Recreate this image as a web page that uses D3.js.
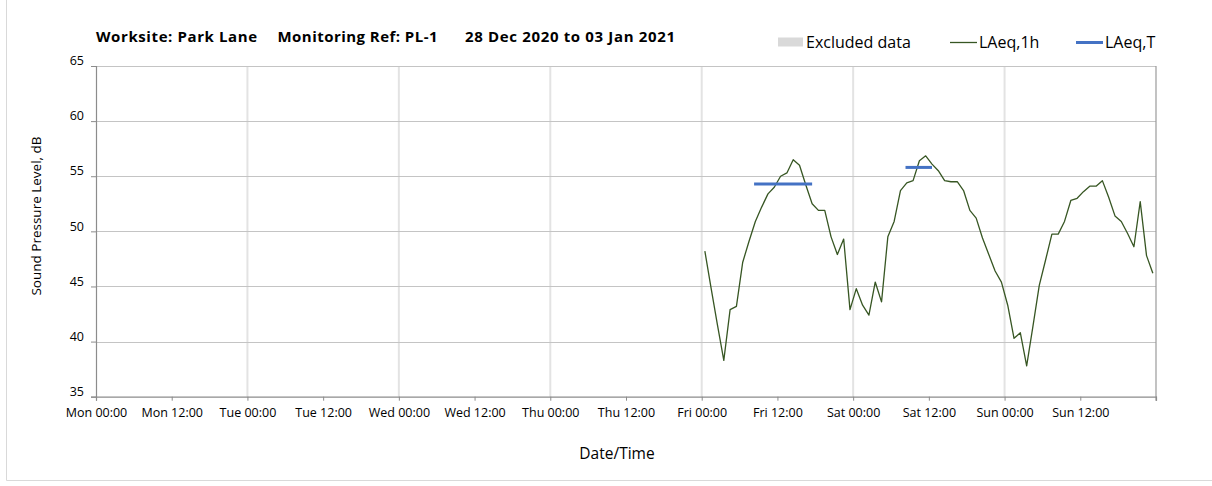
<!DOCTYPE html>
<html>
<head>
<meta charset="utf-8">
<script src="https://cdn.jsdelivr.net/npm/d3@7"></script>
<style>
  html, body { margin: 0; padding: 0; background: #fff; }
  svg { display: block; font-family: "Open Sans", "Noto Sans", sans-serif; }
</style>
</head>
<body>
<svg id="chart" width="1212" height="486"></svg>
<script>
// ---- data ----
const titleParts = ["Worksite: Park Lane", "Monitoring Ref: PL-1", "28 Dec 2020 to 03 Jan 2021"];
const xTickLabels = ["Mon 00:00","Mon 12:00","Tue 00:00","Tue 12:00","Wed 00:00","Wed 12:00",
  "Thu 00:00","Thu 12:00","Fri 00:00","Fri 12:00","Sat 00:00","Sat 12:00","Sun 00:00","Sun 12:00"];
const yTicks = [35, 40, 45, 50, 55, 60, 65];
// hourly LAeq,1h values (hours since Mon 00:00, first value at Fri 00:30)
const laeqStartHour = 96.5;
const laeq1h = [48.2, 44.8, 41.5, 38.3, 42.9, 43.2, 47.2, 49.1, 50.9, 52.2, 53.4, 54.0,
  55.0, 55.3, 56.5, 56.0, 54.2, 52.5, 51.9, 51.9, 49.5, 47.9, 49.3, 42.9,
  44.8, 43.3, 42.4, 45.4, 43.6, 49.5, 50.9, 53.7, 54.4, 54.6, 56.4, 56.85,
  56.1, 55.5, 54.6, 54.5, 54.5, 53.7, 51.9, 51.2, 49.4, 47.9, 46.4, 45.4,
  43.3, 40.3, 40.8, 37.8, 41.4, 45.1, 47.4, 49.75, 49.75, 50.9, 52.8, 53.0,
  53.6, 54.1, 54.1, 54.6, 53.1, 51.4, 50.9, 49.8, 48.6, 52.7, 47.8, 46.2];
// LAeq,T periods: start hour, end hour, level
const laeqTStart = [104.3, 128.3];
const laeqTEnd = [113.5, 132.5];
const laeqTValue = [54.3, 55.8];
const excludedData = []; // none in this period
const legendLabels = ["Excluded data", "LAeq,1h", "LAeq,T"];

// ---- layout ----
const svg = d3.select("#chart");
const W = 1212, H = 486;
const plot = { left: 96, right: 1156, top: 66, bottom: 396.7 };
const x = d3.scaleLinear().domain([0, 168]).range([plot.left, plot.right]);
const y = d3.scaleLinear().domain([35, 65]).range([plot.bottom, plot.top]);

svg.append("rect").attr("width", W).attr("height", H).attr("fill", "#fff");
// outer chart frame
svg.append("path").attr("d", `M6.5,0 V480.5 H${W}`).attr("fill", "none")
  .attr("stroke", "#d9d9d9").attr("stroke-width", 1);

// vertical day gridlines
svg.append("g").selectAll("line").data(d3.range(24, 168, 24)).join("line")
  .attr("x1", d => x(d)).attr("x2", d => x(d))
  .attr("y1", plot.top).attr("y2", plot.bottom)
  .attr("stroke", "#e3e3e3").attr("stroke-width", 2);

// horizontal gridlines
svg.append("g").selectAll("line").data(yTicks.slice(1)).join("line")
  .attr("x1", plot.left).attr("x2", plot.right)
  .attr("y1", d => Math.round(y(d)) + 0.5).attr("y2", d => Math.round(y(d)) + 0.5)
  .attr("stroke", "#c4c4c4").attr("stroke-width", 1);

// right border
svg.append("line").attr("x1", plot.right).attr("x2", plot.right)
  .attr("y1", plot.top).attr("y2", plot.bottom + 4)
  .attr("stroke", "#9a9a9a").attr("stroke-width", 1.2);

// excluded data (none)
svg.append("g").selectAll("rect").data(excludedData).join("rect")
  .attr("x", d => x(d[0])).attr("width", d => x(d[1]) - x(d[0]))
  .attr("y", plot.top).attr("height", plot.bottom - plot.top).attr("fill", "#d9d9d9");

// axes
const xAxis = d3.axisBottom(x).tickValues(d3.range(0, 169, 12)).tickSize(4)
  .tickFormat((d, i) => xTickLabels[i] || "");
const gx = svg.append("g").attr("transform", `translate(0,${plot.bottom})`).call(xAxis);
gx.select(".domain").attr("stroke", "#8c8c8c").attr("stroke-width", 1.2);
gx.selectAll(".tick line").attr("stroke", "#8c8c8c");
gx.selectAll(".tick text").attr("fill", "#000").attr("font-size", 12.5)
  .attr("font-family", "'Open Sans', sans-serif").attr("dy", "1.05em");

const yAxis = d3.axisLeft(y).tickValues(yTicks).tickSize(5).tickFormat(d3.format("d"));
const gy = svg.append("g").attr("transform", `translate(${plot.left},0)`).call(yAxis);
gy.select(".domain").attr("stroke", "#8c8c8c").attr("stroke-width", 1.2);
gy.selectAll(".tick line").attr("stroke", "#8c8c8c");
gy.selectAll(".tick text").attr("fill", "#000").attr("font-size", 12.5)
  .attr("font-family", "'Open Sans', sans-serif").attr("x", -12).attr("dy", "-0.1em");

// LAeq,1h line
const line = d3.line().x((d, i) => x(laeqStartHour + i)).y(d => y(d));
svg.append("path").datum(laeq1h).attr("d", line).attr("fill", "none")
  .attr("stroke", "#375623").attr("stroke-width", 1.3).attr("stroke-linejoin", "round");

// LAeq,T lines
svg.append("g").selectAll("line").data(laeqTValue).join("line")
  .attr("x1", (d, i) => x(laeqTStart[i])).attr("x2", (d, i) => x(laeqTEnd[i]))
  .attr("y1", d => y(d)).attr("y2", d => y(d))
  .attr("stroke", "#4472c4").attr("stroke-width", 3);

// title
const titleX = [96, 277.5, 465];
const titleW = [161, 160, 210];
svg.append("g").selectAll("text").data(titleParts).join("text")
  .attr("x", (d, i) => titleX[i]).attr("y", 42)
  .attr("font-size", 15).attr("font-weight", "bold").attr("fill", "#000")
  .attr("textLength", (d, i) => titleW[i]).attr("lengthAdjust", "spacing")
  .text(d => d);

// legend
const lg = svg.append("g");
lg.append("rect").attr("x", 778).attr("y", 37.5).attr("width", 25).attr("height", 9).attr("fill", "#d9d9d9");
lg.append("line").attr("x1", 950).attr("x2", 977).attr("y1", 42.5).attr("y2", 42.5)
  .attr("stroke", "#375623").attr("stroke-width", 1.3);
lg.append("line").attr("x1", 1076).attr("x2", 1103).attr("y1", 42.5).attr("y2", 42.5)
  .attr("stroke", "#4472c4").attr("stroke-width", 3);
const legendX = [806, 979, 1105];
lg.selectAll("text").data(legendLabels).join("text")
  .attr("x", (d, i) => legendX[i]).attr("y", 48)
  .attr("font-size", 16).attr("fill", "#000").text(d => d);

// axis titles
svg.append("text").attr("transform", "translate(41,216) rotate(-90)")
  .attr("text-anchor", "middle").attr("font-size", 13.5).attr("fill", "#000")
  .text("Sound Pressure Level, dB");
svg.append("text").attr("x", 617).attr("y", 459).attr("text-anchor", "middle")
  .attr("font-size", 15.5).attr("fill", "#000").text("Date/Time");
</script>
</body>
</html>
